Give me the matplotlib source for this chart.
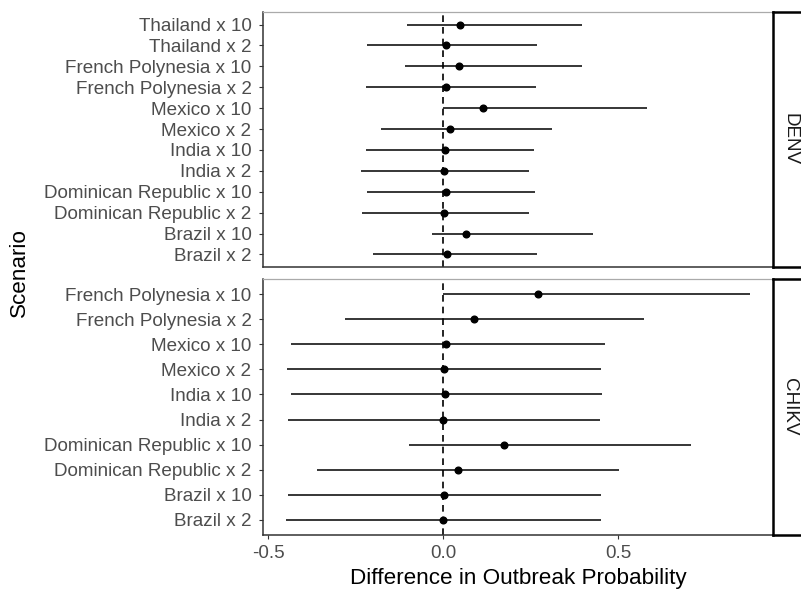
import matplotlib
matplotlib.use("Agg")
import matplotlib.pyplot as plt
from matplotlib.lines import Line2D
import numpy as np

plt.rcParams['font.family'] = ['Liberation Sans', 'DejaVu Sans']

denv_labels = ["Thailand x 10", "Thailand x 2", "French Polynesia x 10", "French Polynesia x 2",
               "Mexico x 10", "Mexico x 2", "India x 10", "India x 2",
               "Dominican Republic x 10", "Dominican Republic x 2", "Brazil x 10", "Brazil x 2"]
denv_mid = [0.049, 0.008, 0.046, 0.007, 0.113, 0.021, 0.006, 0.002, 0.007, 0.002, 0.066, 0.011]
denv_lo = [-0.102, -0.218, -0.110, -0.220, 0.0, -0.176, -0.220, -0.234, -0.216, -0.233, -0.032, -0.200]
denv_hi = [0.396, 0.267, 0.398, 0.264, 0.581, 0.311, 0.259, 0.244, 0.263, 0.245, 0.429, 0.268]

chikv_labels = ["French Polynesia x 10", "French Polynesia x 2", "Mexico x 10", "Mexico x 2",
                "India x 10", "India x 2", "Dominican Republic x 10", "Dominican Republic x 2",
                "Brazil x 10", "Brazil x 2"]
chikv_mid = [0.271, 0.089, 0.009, 0.002, 0.005, 0.001, 0.173, 0.043, 0.002, 0.001]
chikv_lo = [0.0, -0.279, -0.433, -0.446, -0.435, -0.444, -0.098, -0.361, -0.444, -0.449]
chikv_hi = [0.876, 0.574, 0.463, 0.451, 0.455, 0.447, 0.709, 0.501, 0.452, 0.452]

facets = ["DENV", "CHIKV"]
x_ticks = [-0.5, 0.0, 0.5]
x_ticklabels = ["-0.5", "0.0", "0.5"]

W, H = 801, 590
fig = plt.figure(figsize=(W / 100, H / 100), dpi=100, facecolor="white")

left_px, right_px = 262.7, 773
strip_text_px = 790
panels_px = [(12, 267), (279, 535)]

allmin = min(min(denv_lo), min(chikv_lo))
allmax = max(max(denv_hi), max(chikv_hi))
rng = allmax - allmin
xlim = (allmin - 0.05 * rng, allmax + 0.05 * rng)

data = [(denv_labels, denv_mid, denv_lo, denv_hi), (chikv_labels, chikv_mid, chikv_lo, chikv_hi)]

tick_color = "#4D4D4D"
fs_tick = 13.6
for k, ((top, bot), (labels, mid, lo, hi)) in enumerate(zip(panels_px, data)):
    ax = fig.add_axes([left_px / W, 1 - bot / H, (right_px - left_px) / W, (bot - top) / H])
    n = len(labels)
    y = np.arange(n)
    ax.axvline(0, color="black", linestyle=(0, (4, 3)), linewidth=1.2, zorder=1)
    ax.hlines(y, lo, hi, color="black", linewidth=1.1, zorder=2)
    ax.plot(mid, y, "o", color="black", markersize=4.8, zorder=3)
    ax.set_ylim(n - 1 + 0.6, -0.6)
    ax.set_xlim(*xlim)
    ax.set_yticks(y)
    ax.set_yticklabels(labels, fontsize=fs_tick, color=tick_color)
    ax.tick_params(axis="y", length=3, width=0.8, color="#333333", pad=5)
    ax.set_xticks(x_ticks)
    if k == 1:
        ax.set_xticklabels(x_ticklabels, fontsize=fs_tick, color=tick_color)
        ax.tick_params(axis="x", length=3, width=0.8, color="#333333", pad=4.5)
    else:
        ax.tick_params(axis="x", length=0, labelbottom=False)
    for s in ["left", "bottom"]:
        ax.spines[s].set_color("#333333")
        ax.spines[s].set_linewidth(1.1)
    ax.spines["top"].set_color("#AAAAAA")
    ax.spines["top"].set_linewidth(0.9)
    ax.spines["right"].set_visible(False)

    # facet strip: left, top and bottom borders (right edge lies outside the figure)
    xl, xr = right_px / W, 1.0
    yt, yb = 1 - top / H, 1 - bot / H
    for xs, ys in [([xl, xl], [yb, yt]), ([xl, xr], [yt, yt]), ([xl, xr], [yb, yb])]:
        fig.add_artist(Line2D(xs, ys, transform=fig.transFigure, color="black",
                              linewidth=1.8, solid_capstyle="projecting"))
    fig.text(strip_text_px / W, 1 - (top + bot) / 2 / H, facets[k], rotation=270,
             ha="center", va="center", fontsize=fs_tick, color="#1A1A1A")

fig.text((left_px + right_px) / 2 / W, 1 - 584 / H, "Difference in Outbreak Probability",
         ha="center", va="baseline", fontsize=16.2, color="black")
fig.text(19 / W, 1 - 273 / H, "Scenario", rotation=90, ha="center", va="center",
         fontsize=16.2, color="black")

fig.savefig("out.png", dpi=100, facecolor="white")
